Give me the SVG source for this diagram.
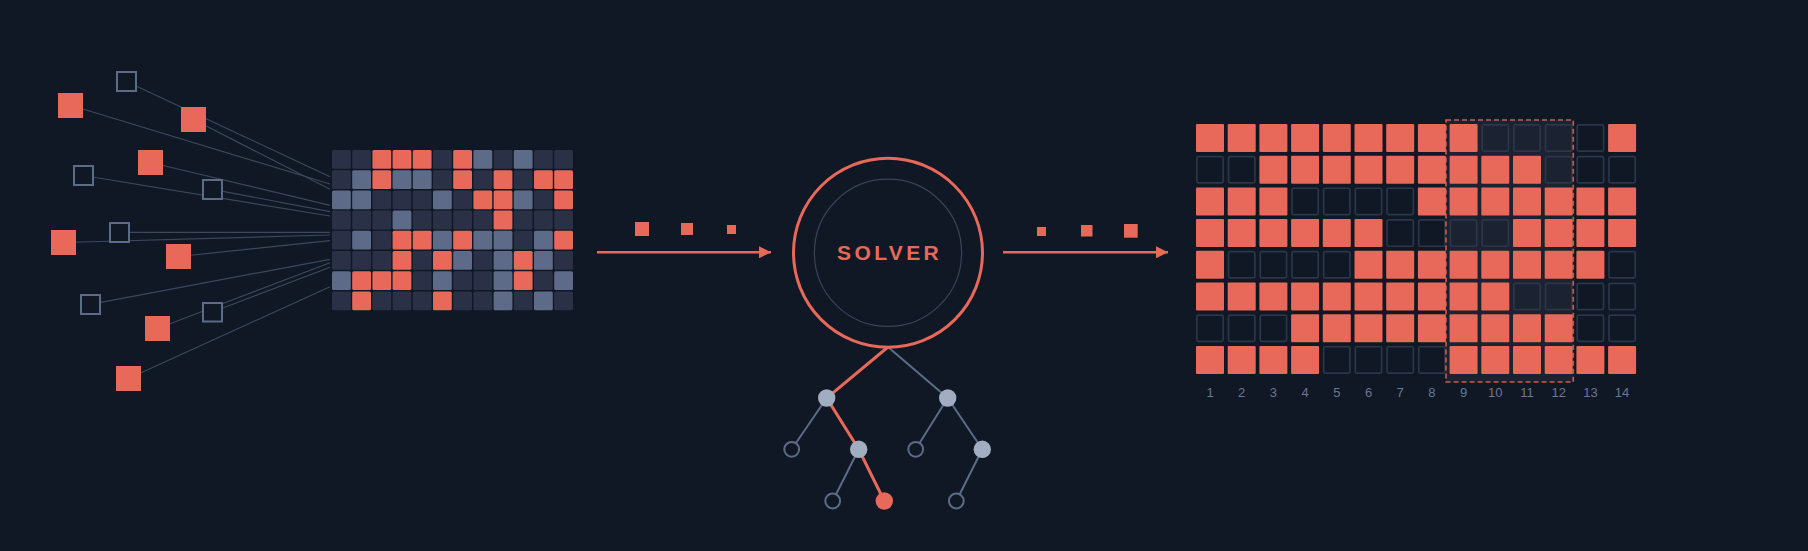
<svg xmlns="http://www.w3.org/2000/svg" width="1808" height="551" viewBox="0 0 1808 551">
<style>
.bg{fill:#0f1824}
.link{stroke:#3d475e;stroke-width:1.2;fill:none}
.sf{fill:#e8695a}
.sh{fill:#0f1824;stroke:#5d6b87;stroke-width:2}
.d{fill:#2a3146}
.l{fill:#5e6b88}
.c{fill:#e8695a}
.oc{fill:#e8695a}
.oh{fill:none;stroke:#2c3549;stroke-width:1.7}
.arrow{stroke:#e8695a;stroke-width:2.6;fill:none}
.tg{stroke:#5d6b87;stroke-width:2;fill:none}
.tc{stroke:#e8695a;stroke-width:3;fill:none}
.tn{fill:#a2adc2}
.th{fill:#0f1824;stroke:#5d6b87;stroke-width:2}
.lab{font-family:"Liberation Sans",Arial,sans-serif;font-size:13px;fill:#6b7793;text-anchor:middle}
</style>
<defs>
<marker id="ah" viewBox="0 0 12 12" refX="12" refY="6" markerWidth="12" markerHeight="12" markerUnits="userSpaceOnUse" orient="auto">
<path d="M0,0 L12,6 L0,12 z" fill="#e8695a"/>
</marker>
</defs>
<rect class="bg" x="0" y="0" width="1808" height="551"/>

<g id="connectors">
<line class="link" x1="126.5" y1="81.5" x2="330" y2="176.7"/>
<line class="link" x1="70.5" y1="105.3" x2="330" y2="184"/>
<line class="link" x1="193.5" y1="119.5" x2="330" y2="189.3"/>
<line class="link" x1="150.5" y1="162.5" x2="330" y2="205.3"/>
<line class="link" x1="83.3" y1="175.5" x2="330" y2="216"/>
<line class="link" x1="212.3" y1="189.3" x2="330" y2="211.7"/>
<line class="link" x1="63.5" y1="242.5" x2="330" y2="235"/>
<line class="link" x1="119.3" y1="232.3" x2="330" y2="232.3"/>
<line class="link" x1="178.5" y1="256.5" x2="330" y2="240.7"/>
<line class="link" x1="90.3" y1="304.3" x2="330" y2="259.3"/>
<line class="link" x1="157.5" y1="328.5" x2="330" y2="262.7"/>
<line class="link" x1="212.3" y1="312" x2="330" y2="267.3"/>
<line class="link" x1="128.5" y1="378.5" x2="330" y2="286.7"/>
<line class="arrow" x1="597" y1="252.3" x2="771" y2="252.3" marker-end="url(#ah)"/>
<line class="arrow" x1="1003" y1="252.3" x2="1168" y2="252.3" marker-end="url(#ah)"/>
<line class="tg" x1="888" y1="347" x2="947.7" y2="398"/>
<line class="tg" x1="826.7" y1="398" x2="791.7" y2="449.3"/>
<line class="tg" x1="947.7" y1="398" x2="915.7" y2="449.3"/>
<line class="tg" x1="947.7" y1="398" x2="982.3" y2="449.3"/>
<line class="tg" x1="858.7" y1="449.3" x2="832.7" y2="501"/>
<line class="tg" x1="982.3" y1="449.3" x2="956.3" y2="501"/>
<polyline class="tc" points="888,347 826.7,398 858.7,449.3 884.3,501"/>
</g>

<g id="sources">
<rect class="sh" x="117" y="72" width="19" height="19"/>
<rect class="sf" x="58" y="93" width="25" height="25"/>
<rect class="sf" x="181" y="107" width="25" height="25"/>
<rect class="sf" x="138" y="150" width="25" height="25"/>
<rect class="sh" x="74" y="166" width="19" height="19"/>
<rect class="sh" x="203" y="180" width="19" height="19"/>
<rect class="sf" x="51" y="230" width="25" height="25"/>
<rect class="sh" x="110" y="223" width="19" height="19"/>
<rect class="sf" x="166" y="244" width="25" height="25"/>
<rect class="sh" x="81" y="295" width="19" height="19"/>
<rect class="sf" x="145" y="316" width="25" height="25"/>
<rect class="sh" x="203" y="303" width="19" height="18.5"/>
<rect class="sf" x="116" y="366" width="25" height="25"/>
</g>

<g id="input-grid">
<g transform="translate(0,150)">
<rect class="d" x="332" width="18.8" height="18.8" rx="1.5"/><rect class="d" x="352.2" width="18.8" height="18.8" rx="1.5"/><rect class="c" x="372.4" width="18.8" height="18.8" rx="1.5"/><rect class="c" x="392.6" width="18.8" height="18.8" rx="1.5"/><rect class="c" x="412.8" width="18.8" height="18.8" rx="1.5"/><rect class="d" x="433" width="18.8" height="18.8" rx="1.5"/><rect class="c" x="453.2" width="18.8" height="18.8" rx="1.5"/><rect class="l" x="473.4" width="18.8" height="18.8" rx="1.5"/><rect class="d" x="493.6" width="18.8" height="18.8" rx="1.5"/><rect class="l" x="513.8" width="18.8" height="18.8" rx="1.5"/><rect class="d" x="534" width="18.8" height="18.8" rx="1.5"/><rect class="d" x="554.2" width="18.8" height="18.8" rx="1.5"/>
</g>
<g transform="translate(0,170.2)">
<rect class="d" x="332" width="18.8" height="18.8" rx="1.5"/><rect class="l" x="352.2" width="18.8" height="18.8" rx="1.5"/><rect class="c" x="372.4" width="18.8" height="18.8" rx="1.5"/><rect class="l" x="392.6" width="18.8" height="18.8" rx="1.5"/><rect class="l" x="412.8" width="18.8" height="18.8" rx="1.5"/><rect class="d" x="433" width="18.8" height="18.8" rx="1.5"/><rect class="c" x="453.2" width="18.8" height="18.8" rx="1.5"/><rect class="d" x="473.4" width="18.8" height="18.8" rx="1.5"/><rect class="c" x="493.6" width="18.8" height="18.8" rx="1.5"/><rect class="d" x="513.8" width="18.8" height="18.8" rx="1.5"/><rect class="c" x="534" width="18.8" height="18.8" rx="1.5"/><rect class="c" x="554.2" width="18.8" height="18.8" rx="1.5"/>
</g>
<g transform="translate(0,190.4)">
<rect class="l" x="332" width="18.8" height="18.8" rx="1.5"/><rect class="l" x="352.2" width="18.8" height="18.8" rx="1.5"/><rect class="d" x="372.4" width="18.8" height="18.8" rx="1.5"/><rect class="d" x="392.6" width="18.8" height="18.8" rx="1.5"/><rect class="d" x="412.8" width="18.8" height="18.8" rx="1.5"/><rect class="l" x="433" width="18.8" height="18.8" rx="1.5"/><rect class="d" x="453.2" width="18.8" height="18.8" rx="1.5"/><rect class="c" x="473.4" width="18.8" height="18.8" rx="1.5"/><rect class="c" x="493.6" width="18.8" height="18.8" rx="1.5"/><rect class="l" x="513.8" width="18.8" height="18.8" rx="1.5"/><rect class="d" x="534" width="18.8" height="18.8" rx="1.5"/><rect class="c" x="554.2" width="18.8" height="18.8" rx="1.5"/>
</g>
<g transform="translate(0,210.6)">
<rect class="d" x="332" width="18.8" height="18.8" rx="1.5"/><rect class="d" x="352.2" width="18.8" height="18.8" rx="1.5"/><rect class="d" x="372.4" width="18.8" height="18.8" rx="1.5"/><rect class="l" x="392.6" width="18.8" height="18.8" rx="1.5"/><rect class="d" x="412.8" width="18.8" height="18.8" rx="1.5"/><rect class="d" x="433" width="18.8" height="18.8" rx="1.5"/><rect class="d" x="453.2" width="18.8" height="18.8" rx="1.5"/><rect class="d" x="473.4" width="18.8" height="18.8" rx="1.5"/><rect class="c" x="493.6" width="18.8" height="18.8" rx="1.5"/><rect class="d" x="513.8" width="18.8" height="18.8" rx="1.5"/><rect class="d" x="534" width="18.8" height="18.8" rx="1.5"/><rect class="d" x="554.2" width="18.8" height="18.8" rx="1.5"/>
</g>
<g transform="translate(0,230.8)">
<rect class="d" x="332" width="18.8" height="18.8" rx="1.5"/><rect class="l" x="352.2" width="18.8" height="18.8" rx="1.5"/><rect class="d" x="372.4" width="18.8" height="18.8" rx="1.5"/><rect class="c" x="392.6" width="18.8" height="18.8" rx="1.5"/><rect class="c" x="412.8" width="18.8" height="18.8" rx="1.5"/><rect class="l" x="433" width="18.8" height="18.8" rx="1.5"/><rect class="c" x="453.2" width="18.8" height="18.8" rx="1.5"/><rect class="l" x="473.4" width="18.8" height="18.8" rx="1.5"/><rect class="l" x="493.6" width="18.8" height="18.8" rx="1.5"/><rect class="d" x="513.8" width="18.8" height="18.8" rx="1.5"/><rect class="l" x="534" width="18.8" height="18.8" rx="1.5"/><rect class="c" x="554.2" width="18.8" height="18.8" rx="1.5"/>
</g>
<g transform="translate(0,251)">
<rect class="d" x="332" width="18.8" height="18.8" rx="1.5"/><rect class="d" x="352.2" width="18.8" height="18.8" rx="1.5"/><rect class="d" x="372.4" width="18.8" height="18.8" rx="1.5"/><rect class="c" x="392.6" width="18.8" height="18.8" rx="1.5"/><rect class="d" x="412.8" width="18.8" height="18.8" rx="1.5"/><rect class="c" x="433" width="18.8" height="18.8" rx="1.5"/><rect class="l" x="453.2" width="18.8" height="18.8" rx="1.5"/><rect class="d" x="473.4" width="18.8" height="18.8" rx="1.5"/><rect class="l" x="493.6" width="18.8" height="18.8" rx="1.5"/><rect class="c" x="513.8" width="18.8" height="18.8" rx="1.5"/><rect class="l" x="534" width="18.8" height="18.8" rx="1.5"/><rect class="d" x="554.2" width="18.8" height="18.8" rx="1.5"/>
</g>
<g transform="translate(0,271.2)">
<rect class="l" x="332" width="18.8" height="18.8" rx="1.5"/><rect class="c" x="352.2" width="18.8" height="18.8" rx="1.5"/><rect class="c" x="372.4" width="18.8" height="18.8" rx="1.5"/><rect class="c" x="392.6" width="18.8" height="18.8" rx="1.5"/><rect class="d" x="412.8" width="18.8" height="18.8" rx="1.5"/><rect class="l" x="433" width="18.8" height="18.8" rx="1.5"/><rect class="d" x="453.2" width="18.8" height="18.8" rx="1.5"/><rect class="d" x="473.4" width="18.8" height="18.8" rx="1.5"/><rect class="l" x="493.6" width="18.8" height="18.8" rx="1.5"/><rect class="c" x="513.8" width="18.8" height="18.8" rx="1.5"/><rect class="d" x="534" width="18.8" height="18.8" rx="1.5"/><rect class="l" x="554.2" width="18.8" height="18.8" rx="1.5"/>
</g>
<g transform="translate(0,291.4)">
<rect class="d" x="332" width="18.8" height="18.8" rx="1.5"/><rect class="c" x="352.2" width="18.8" height="18.8" rx="1.5"/><rect class="d" x="372.4" width="18.8" height="18.8" rx="1.5"/><rect class="d" x="392.6" width="18.8" height="18.8" rx="1.5"/><rect class="d" x="412.8" width="18.8" height="18.8" rx="1.5"/><rect class="c" x="433" width="18.8" height="18.8" rx="1.5"/><rect class="d" x="453.2" width="18.8" height="18.8" rx="1.5"/><rect class="d" x="473.4" width="18.8" height="18.8" rx="1.5"/><rect class="l" x="493.6" width="18.8" height="18.8" rx="1.5"/><rect class="d" x="513.8" width="18.8" height="18.8" rx="1.5"/><rect class="l" x="534" width="18.8" height="18.8" rx="1.5"/><rect class="d" x="554.2" width="18.8" height="18.8" rx="1.5"/>
</g>
</g>

<g id="input-packets">
<rect class="sf" x="635" y="222" width="14" height="14"/>
<rect class="sf" x="681" y="223" width="12" height="12"/>
<rect class="sf" x="727" y="225" width="9" height="9"/>
</g>

<g id="solver">
<circle cx="888" cy="252.8" r="94.5" fill="none" stroke="#e8695a" stroke-width="3"/>
<circle cx="888" cy="252.8" r="73.6" fill="none" stroke="#3a4358" stroke-width="1.2"/>
<text x="889.6" y="259.5" font-family="'Liberation Sans',Arial,sans-serif" font-size="21" font-weight="bold" letter-spacing="3.4" fill="#e8695a" text-anchor="middle">SOLVER</text>
</g>

<g id="tree">
<circle class="tn" cx="826.7" cy="398" r="8.7"/>
<circle class="tn" cx="947.7" cy="398" r="8.7"/>
<circle class="th" cx="791.7" cy="449.3" r="7.4"/>
<circle class="tn" cx="858.7" cy="449.3" r="8.7"/>
<circle class="th" cx="915.7" cy="449.3" r="7.4"/>
<circle class="tn" cx="982.3" cy="449.3" r="8.7"/>
<circle class="th" cx="832.7" cy="501" r="7.4"/>
<circle class="c" cx="884.3" cy="501" r="8.7"/>
<circle class="th" cx="956.3" cy="501" r="7.4"/>
</g>

<g id="output-packets">
<rect class="sf" x="1037" y="227" width="9" height="9"/>
<rect class="sf" x="1081" y="225" width="11.5" height="11.5"/>
<rect class="sf" x="1124" y="224" width="13.7" height="13.7"/>
</g>

<g id="output-grid">
<rect x="1446" y="120" width="127.3" height="262" fill="#1b2232"/>
<g transform="translate(0,124)">
<rect class="oc" x="1196" width="28" height="28" rx="1"/><rect class="oc" x="1227.7" width="28" height="28" rx="1"/><rect class="oc" x="1259.4" width="28" height="28" rx="1"/><rect class="oc" x="1291.1" width="28" height="28" rx="1"/><rect class="oc" x="1322.8" width="28" height="28" rx="1"/><rect class="oc" x="1354.5" width="28" height="28" rx="1"/><rect class="oc" x="1386.2" width="28" height="28" rx="1"/><rect class="oc" x="1417.9" width="28" height="28" rx="1"/><rect class="oc" x="1449.6" width="28" height="28" rx="1"/><rect class="oh" x="1482.15" y="0.85" width="26.3" height="26.3" rx="1.5"/><rect class="oh" x="1513.85" y="0.85" width="26.3" height="26.3" rx="1.5"/><rect class="oh" x="1545.55" y="0.85" width="26.3" height="26.3" rx="1.5"/><rect class="oh" x="1577.25" y="0.85" width="26.3" height="26.3" rx="1.5"/><rect class="oc" x="1608.1" width="28" height="28" rx="1"/>
</g>
<g transform="translate(0,155.7)">
<rect class="oh" x="1196.85" y="0.85" width="26.3" height="26.3" rx="1.5"/><rect class="oh" x="1228.55" y="0.85" width="26.3" height="26.3" rx="1.5"/><rect class="oc" x="1259.4" width="28" height="28" rx="1"/><rect class="oc" x="1291.1" width="28" height="28" rx="1"/><rect class="oc" x="1322.8" width="28" height="28" rx="1"/><rect class="oc" x="1354.5" width="28" height="28" rx="1"/><rect class="oc" x="1386.2" width="28" height="28" rx="1"/><rect class="oc" x="1417.9" width="28" height="28" rx="1"/><rect class="oc" x="1449.6" width="28" height="28" rx="1"/><rect class="oc" x="1481.3" width="28" height="28" rx="1"/><rect class="oc" x="1513" width="28" height="28" rx="1"/><rect class="oh" x="1545.55" y="0.85" width="26.3" height="26.3" rx="1.5"/><rect class="oh" x="1577.25" y="0.85" width="26.3" height="26.3" rx="1.5"/><rect class="oh" x="1608.95" y="0.85" width="26.3" height="26.3" rx="1.5"/>
</g>
<g transform="translate(0,187.4)">
<rect class="oc" x="1196" width="28" height="28" rx="1"/><rect class="oc" x="1227.7" width="28" height="28" rx="1"/><rect class="oc" x="1259.4" width="28" height="28" rx="1"/><rect class="oh" x="1291.95" y="0.85" width="26.3" height="26.3" rx="1.5"/><rect class="oh" x="1323.65" y="0.85" width="26.3" height="26.3" rx="1.5"/><rect class="oh" x="1355.35" y="0.85" width="26.3" height="26.3" rx="1.5"/><rect class="oh" x="1387.05" y="0.85" width="26.3" height="26.3" rx="1.5"/><rect class="oc" x="1417.9" width="28" height="28" rx="1"/><rect class="oc" x="1449.6" width="28" height="28" rx="1"/><rect class="oc" x="1481.3" width="28" height="28" rx="1"/><rect class="oc" x="1513" width="28" height="28" rx="1"/><rect class="oc" x="1544.7" width="28" height="28" rx="1"/><rect class="oc" x="1576.4" width="28" height="28" rx="1"/><rect class="oc" x="1608.1" width="28" height="28" rx="1"/>
</g>
<g transform="translate(0,219.1)">
<rect class="oc" x="1196" width="28" height="28" rx="1"/><rect class="oc" x="1227.7" width="28" height="28" rx="1"/><rect class="oc" x="1259.4" width="28" height="28" rx="1"/><rect class="oc" x="1291.1" width="28" height="28" rx="1"/><rect class="oc" x="1322.8" width="28" height="28" rx="1"/><rect class="oc" x="1354.5" width="28" height="28" rx="1"/><rect class="oh" x="1387.05" y="0.85" width="26.3" height="26.3" rx="1.5"/><rect class="oh" x="1418.75" y="0.85" width="26.3" height="26.3" rx="1.5"/><rect class="oh" x="1450.45" y="0.85" width="26.3" height="26.3" rx="1.5"/><rect class="oh" x="1482.15" y="0.85" width="26.3" height="26.3" rx="1.5"/><rect class="oc" x="1513" width="28" height="28" rx="1"/><rect class="oc" x="1544.7" width="28" height="28" rx="1"/><rect class="oc" x="1576.4" width="28" height="28" rx="1"/><rect class="oc" x="1608.1" width="28" height="28" rx="1"/>
</g>
<g transform="translate(0,250.8)">
<rect class="oc" x="1196" width="28" height="28" rx="1"/><rect class="oh" x="1228.55" y="0.85" width="26.3" height="26.3" rx="1.5"/><rect class="oh" x="1260.25" y="0.85" width="26.3" height="26.3" rx="1.5"/><rect class="oh" x="1291.95" y="0.85" width="26.3" height="26.3" rx="1.5"/><rect class="oh" x="1323.65" y="0.85" width="26.3" height="26.3" rx="1.5"/><rect class="oc" x="1354.5" width="28" height="28" rx="1"/><rect class="oc" x="1386.2" width="28" height="28" rx="1"/><rect class="oc" x="1417.9" width="28" height="28" rx="1"/><rect class="oc" x="1449.6" width="28" height="28" rx="1"/><rect class="oc" x="1481.3" width="28" height="28" rx="1"/><rect class="oc" x="1513" width="28" height="28" rx="1"/><rect class="oc" x="1544.7" width="28" height="28" rx="1"/><rect class="oc" x="1576.4" width="28" height="28" rx="1"/><rect class="oh" x="1608.95" y="0.85" width="26.3" height="26.3" rx="1.5"/>
</g>
<g transform="translate(0,282.5)">
<rect class="oc" x="1196" width="28" height="28" rx="1"/><rect class="oc" x="1227.7" width="28" height="28" rx="1"/><rect class="oc" x="1259.4" width="28" height="28" rx="1"/><rect class="oc" x="1291.1" width="28" height="28" rx="1"/><rect class="oc" x="1322.8" width="28" height="28" rx="1"/><rect class="oc" x="1354.5" width="28" height="28" rx="1"/><rect class="oc" x="1386.2" width="28" height="28" rx="1"/><rect class="oc" x="1417.9" width="28" height="28" rx="1"/><rect class="oc" x="1449.6" width="28" height="28" rx="1"/><rect class="oc" x="1481.3" width="28" height="28" rx="1"/><rect class="oh" x="1513.85" y="0.85" width="26.3" height="26.3" rx="1.5"/><rect class="oh" x="1545.55" y="0.85" width="26.3" height="26.3" rx="1.5"/><rect class="oh" x="1577.25" y="0.85" width="26.3" height="26.3" rx="1.5"/><rect class="oh" x="1608.95" y="0.85" width="26.3" height="26.3" rx="1.5"/>
</g>
<g transform="translate(0,314.2)">
<rect class="oh" x="1196.85" y="0.85" width="26.3" height="26.3" rx="1.5"/><rect class="oh" x="1228.55" y="0.85" width="26.3" height="26.3" rx="1.5"/><rect class="oh" x="1260.25" y="0.85" width="26.3" height="26.3" rx="1.5"/><rect class="oc" x="1291.1" width="28" height="28" rx="1"/><rect class="oc" x="1322.8" width="28" height="28" rx="1"/><rect class="oc" x="1354.5" width="28" height="28" rx="1"/><rect class="oc" x="1386.2" width="28" height="28" rx="1"/><rect class="oc" x="1417.9" width="28" height="28" rx="1"/><rect class="oc" x="1449.6" width="28" height="28" rx="1"/><rect class="oc" x="1481.3" width="28" height="28" rx="1"/><rect class="oc" x="1513" width="28" height="28" rx="1"/><rect class="oc" x="1544.7" width="28" height="28" rx="1"/><rect class="oh" x="1577.25" y="0.85" width="26.3" height="26.3" rx="1.5"/><rect class="oh" x="1608.95" y="0.85" width="26.3" height="26.3" rx="1.5"/>
</g>
<g transform="translate(0,345.9)">
<rect class="oc" x="1196" width="28" height="28" rx="1"/><rect class="oc" x="1227.7" width="28" height="28" rx="1"/><rect class="oc" x="1259.4" width="28" height="28" rx="1"/><rect class="oc" x="1291.1" width="28" height="28" rx="1"/><rect class="oh" x="1323.65" y="0.85" width="26.3" height="26.3" rx="1.5"/><rect class="oh" x="1355.35" y="0.85" width="26.3" height="26.3" rx="1.5"/><rect class="oh" x="1387.05" y="0.85" width="26.3" height="26.3" rx="1.5"/><rect class="oh" x="1418.75" y="0.85" width="26.3" height="26.3" rx="1.5"/><rect class="oc" x="1449.6" width="28" height="28" rx="1"/><rect class="oc" x="1481.3" width="28" height="28" rx="1"/><rect class="oc" x="1513" width="28" height="28" rx="1"/><rect class="oc" x="1544.7" width="28" height="28" rx="1"/><rect class="oc" x="1576.4" width="28" height="28" rx="1"/><rect class="oc" x="1608.1" width="28" height="28" rx="1"/>
</g>
<rect x="1446" y="120" width="127.3" height="262" fill="none" stroke="#e8695a" stroke-width="1.6" stroke-dasharray="5 3" opacity="0.85"/>
</g>

<g id="column-labels">
<text class="lab" x="1210" y="396.5">1</text>
<text class="lab" x="1241.7" y="396.5">2</text>
<text class="lab" x="1273.4" y="396.5">3</text>
<text class="lab" x="1305.1" y="396.5">4</text>
<text class="lab" x="1336.8" y="396.5">5</text>
<text class="lab" x="1368.5" y="396.5">6</text>
<text class="lab" x="1400.2" y="396.5">7</text>
<text class="lab" x="1431.9" y="396.5">8</text>
<text class="lab" x="1463.6" y="396.5">9</text>
<text class="lab" x="1495.3" y="396.5">10</text>
<text class="lab" x="1527" y="396.5">11</text>
<text class="lab" x="1558.7" y="396.5">12</text>
<text class="lab" x="1590.4" y="396.5">13</text>
<text class="lab" x="1622.1" y="396.5">14</text>
</g>
</svg>
